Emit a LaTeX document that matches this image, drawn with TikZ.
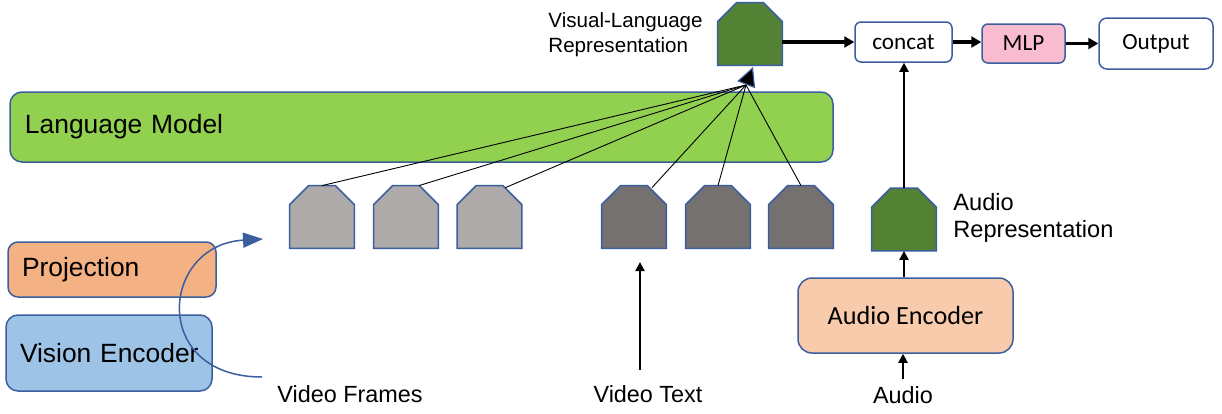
\documentclass[tikz,border=0pt]{standalone}
\usepackage{fontspec}
\setmainfont{Liberation Sans}
\newfontfamily\calibri{Carlito}
\usepackage{tikz}
\usetikzlibrary{arrows.meta}
\definecolor{edgeblue}{HTML}{3B5E9E}
\definecolor{lmgreen}{HTML}{92D050}
\definecolor{projorange}{HTML}{F4B183}
\definecolor{visblue}{HTML}{9DC3E6}
\definecolor{tokgray}{HTML}{AEAAAA}
\definecolor{tokdark}{HTML}{767171}
\definecolor{repgreen}{HTML}{548235}
\definecolor{mlppink}{HTML}{F9BBD0}
\definecolor{audpeach}{HTML}{F8CBAD}
\newcommand{\labelfont}{\fontsize{11.7pt}{14pt}\selectfont}
\newcommand{\boxfont}{\fontsize{13.2pt}{16pt}\selectfont}
\newcommand{\calfont}{\calibri\fontsize{11.6pt}{14pt}\selectfont}
\newcommand{\mmtoken}[3] {\node at (#1) (#2) [minimum width=32pt, minimum height=31pt, inner sep=0pt] {};
  \filldraw [fill=#3, draw=edgeblue, line width=0.75pt] (#2.south west) -- ([yshift=-9.5pt]#2.north west) -- ([xshift=9.5pt]#2.north west) -- ([xshift=-9.5pt]#2.north east) -- ([yshift=-9.5pt]#2.north east) -- (#2.south east) -- cycle;}

\begin{document}
\begin{tikzpicture}[x=0.5pt, y=-0.5pt,
  box/.style={draw=edgeblue, line width=0.75pt},
  lbl/.style={font=\labelfont},
  thickarrow/.style={line width=1.75pt, -{Triangle[length=5pt, width=5.5pt]}},
  midarrow/.style={line width=1pt, -{Triangle[length=4.5pt, width=4.5pt]}},
  fan/.style={line width=0.45pt}]
\useasboundingbox (0,0) rectangle (1222,413);

\mmtoken {750,34}{vlrep}{repgreen}
\node at (548,35) (vltext) [anchor=west, align=left, inner sep=0pt, font=\fontsize{10.3pt}{12.5pt}\selectfont] {Visual-Language\\Representation};
\node at (903.5,42) (concat) [box, rounded corners=3pt, minimum width=48.5pt, minimum height=20pt, font=\calfont] {concat};
\node at (1023.5,43.5) (mlp) [box, fill=mlppink, rounded corners=3pt, minimum width=41.5pt, minimum height=19.5pt, font=\calfont] {MLP};
\node at (1156,43.5) (output) [box, rounded corners=4pt, minimum width=57pt, minimum height=25.5pt, font=\calfont] {Output};

\node at (421.5,127) (lm) [box, fill=lmgreen, rounded corners=6pt, text width=396.5pt, inner xsep=7.5pt, minimum height=35pt, align=left, font=\boxfont] {Language Model};
\node at (112,269.5) (proj) [box, fill=projorange, rounded corners=5pt, text width=90pt, inner xsep=7pt, minimum height=27.5pt, align=left, font=\boxfont] {Projection};
\node at (109,353) (vis) [box, fill=visblue, rounded corners=6pt, text width=89pt, inner xsep=7pt, minimum height=38pt, align=left, font=\boxfont] {\mbox{Vision Encoder}};

\mmtoken {322,217}{frameA}{tokgray}
\mmtoken {406,217}{frameB}{tokgray}
\mmtoken {489.5,217}{frameC}{tokgray}
\mmtoken {634,217}{textA}{tokdark}
\mmtoken {718,217}{textB}{tokdark}
\mmtoken {801,217}{textC}{tokdark}
\mmtoken {904,219.5}{audrep}{repgreen}
\node at (953,218) (audreptext) [anchor=west, align=left, inner sep=0pt, font=\fontsize{11.8pt}{13.5pt}\selectfont] {Audio\\Representation};
\node at (905.5,315.5) (audenc) [box, fill=audpeach, rounded corners=7pt, minimum width=107.5pt, minimum height=37.5pt, font=\calibri\fontsize{13.1pt}{16pt}\selectfont] {Audio Encoder};

\node at (350,394) (vframes) [lbl] {Video Frames};
\node at (648,394) (vtext) [lbl] {Video Text};
\node at (903,395) (audio) [lbl] {Audio};

\coordinate (hub) at (746,85);
\coordinate (hubtip) at (753,67);
\coordinate (vffoot) at (262,377);
\coordinate (vfhead) at (263,239);
\coordinate (vtfoot) at (640,370);
\coordinate (vthead) at (640,262);

\draw [fan] (frameA.north) -- (hub);
\draw [fan] ([xshift=6.5pt]frameB.north) -- (hub);
\draw [fan] ([xshift=8pt, yshift=-1pt]frameC.north) -- (hub);
\draw [fan] ([xshift=9pt, yshift=-1pt]textA.north) -- (hub);
\draw [fan] (textB.north) -- (hub);
\draw [fan] (textC.north) -- (hub);
\draw [draw=edgeblue, line width=0.6pt, -{Triangle[length=9.5pt, width=9.5pt, fill=black]}] (hub) -- (hubtip);

\draw [thickarrow] (concat.west -| vlrep.east) -- (concat.west);
\draw [thickarrow] (concat.east) -- (concat.east -| mlp.west);
\draw [thickarrow] (mlp.east) -- (mlp.east -| output.west);
\draw [midarrow] (audrep.north) -- (audrep.north |- concat.south);
\draw [midarrow] (audrep.south |- audenc.north) -- (audrep.south);
\draw [midarrow] (audio.north) -- (audio.north |- audenc.south);
\draw [midarrow] (vtfoot) -- (vthead);
\draw [edgeblue, line width=0.75pt, -{Triangle[length=10pt, width=7.5pt]}] (vffoot) .. controls (150,377) and (160,245) .. (vfhead);
\end{tikzpicture}
\end{document}
